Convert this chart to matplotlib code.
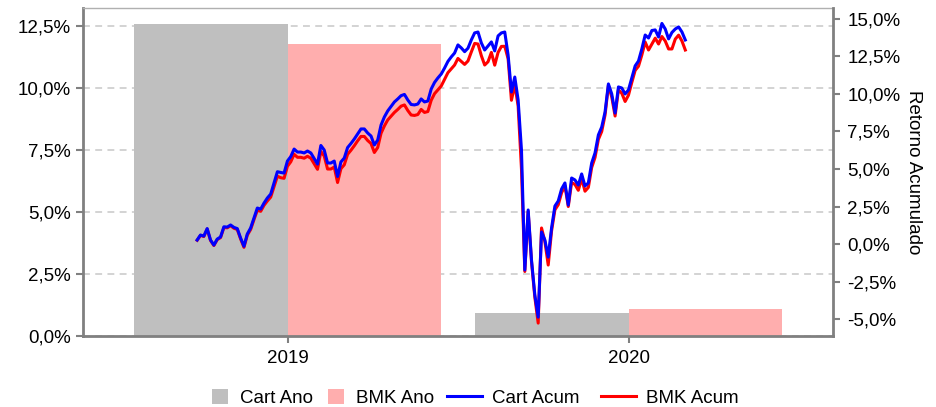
import matplotlib
matplotlib.use("Agg")
import matplotlib.pyplot as plt
from matplotlib.ticker import FuncFormatter, FixedLocator

plt.rcParams['font.family'] = ['Liberation Sans', 'DejaVu Sans']

# ---------------- data ----------------
years = ["2019", "2020"]
cart_ano = [12.6, 0.92]
bmk_ano = [11.79, 1.09]

cart_acum = [
    0.27, 0.60, 0.53, 1.03, 0.27, -0.07, 0.33, 0.47, 1.15, 1.13,
    1.27, 1.11, 1.03, 0.40, -0.15, 0.67, 1.07, 1.73, 2.40, 2.33,
    2.73, 3.07, 3.33, 4.07, 4.82, 4.77, 4.73, 5.53, 5.83, 6.33,
    6.13, 6.13, 6.07, 6.20, 6.07, 5.70, 5.33, 6.57, 6.27, 5.40,
    5.40, 5.53, 4.50, 5.47, 5.73, 6.43, 6.70, 7.00, 7.33, 7.67,
    7.67, 7.40, 7.20, 6.60, 6.93, 7.93, 8.47, 8.87, 9.17, 9.47,
    9.67, 9.89, 9.97, 9.60, 9.30, 9.27, 9.33, 9.67, 9.47, 9.53,
    10.33, 10.77, 11.07, 11.33, 11.73, 12.17, 12.47, 12.73, 13.27, 13.07,
    12.82, 13.05, 13.60, 14.07, 14.13, 13.40, 12.93, 13.20, 13.47, 12.87,
    13.87, 14.07, 14.13, 12.60, 10.13, 11.13, 9.60, 6.27, -1.73, 2.27,
    -1.07, -3.40, -4.87, 0.80, 0.27, -0.87, 1.07, 2.53, 2.87, 3.67,
    4.07, 2.60, 4.40, 4.27, 3.93, 4.67, 3.87, 4.07, 5.40, 6.07,
    7.27, 7.80, 8.80, 10.67, 10.00, 8.73, 10.47, 10.40, 10.00, 10.27,
    11.07, 11.87, 12.20, 13.00, 13.93, 13.73, 14.23, 14.27, 13.80, 14.70,
    14.33, 13.67, 14.10, 14.33, 14.47, 14.13, 13.60,
]
bmk_acum = [
    0.25, 0.58, 0.50, 1.00, 0.24, -0.10, 0.29, 0.43, 1.10, 1.08,
    1.22, 1.05, 0.97, 0.34, -0.22, 0.59, 0.97, 1.63, 2.25, 2.18,
    2.58, 2.87, 3.13, 3.82, 4.52, 4.42, 4.38, 5.18, 5.48, 5.98,
    5.78, 5.78, 5.72, 5.85, 5.72, 5.35, 4.98, 6.17, 5.87, 5.00,
    5.00, 5.13, 4.10, 5.02, 5.28, 5.98, 6.25, 6.55, 6.88, 7.17,
    7.17, 6.90, 6.70, 6.10, 6.43, 7.38, 7.87, 8.27, 8.52, 8.77,
    8.97, 9.19, 9.27, 8.90, 8.60, 8.57, 8.63, 8.97, 8.77, 8.83,
    9.58, 10.02, 10.27, 10.53, 10.98, 11.42, 11.67, 11.93, 12.37, 12.17,
    11.97, 12.20, 12.80, 13.37, 13.33, 12.55, 11.93, 12.15, 12.77, 11.92,
    12.77, 13.17, 13.18, 12.35, 9.58, 10.63, 9.20, 5.00, -1.83, 2.17,
    -1.17, -3.55, -5.27, 1.07, 0.17, -1.40, 0.87, 2.28, 2.62, 3.42,
    3.87, 2.50, 4.10, 3.97, 3.58, 4.37, 3.52, 3.77, 5.10, 5.77,
    6.97, 7.50, 8.60, 10.57, 9.80, 8.53, 10.27, 10.05, 9.50, 9.92,
    10.77, 11.57, 11.85, 12.60, 13.46, 12.93, 13.33, 13.72, 13.33, 13.83,
    13.53, 13.00, 13.00, 13.66, 13.92, 13.53, 12.93,
]

left_ticks = [0.0, 2.5, 5.0, 7.5, 10.0, 12.5]
right_ticks = [-5.0, -2.5, 0.0, 2.5, 5.0, 7.5, 10.0, 12.5, 15.0]

# ---------------- styles ----------------
C_GRAY = "#BFBFBF"
C_PINK = "#FFAEAE"
C_BLUE = "#0000FF"
C_RED = "#FF0000"
SPINE = "#808080"
FS = 13.5

def pct(v, pos=None):
    return f"{v:.1f}%".replace(".", ",")

fig = plt.figure(figsize=(9.37, 4.07), dpi=100)
ax = fig.add_axes([0.0889, 0.1744, 0.8004, 0.8052])

xpos = list(range(len(years)))
w = 0.45
b1 = ax.bar([p - w / 2 for p in xpos], cart_ano, width=w, color=C_GRAY, label="Cart Ano", zorder=2)
b2 = ax.bar([p + w / 2 for p in xpos], bmk_ano, width=w, color=C_PINK, label="BMK Ano", zorder=2)
ax.set_xlim(-0.6, 1.6)
ax.set_ylim(0, 13.23)
ax.set_xticks(xpos)
ax.set_xticklabels(years)
ax.yaxis.set_major_locator(FixedLocator(left_ticks))
ax.yaxis.set_major_formatter(FuncFormatter(pct))
ax.set_axisbelow(True)
ax.grid(axis="y", color="#C8C8C8", linestyle=(0, (4.5, 3.5)), linewidth=1.1)
ax.grid(axis="x", visible=False)

ax2 = ax.twinx()
ax2.set_ylim(-6.13, 15.71)
ax2.yaxis.set_major_locator(FixedLocator(right_ticks))
ax2.yaxis.set_major_formatter(FuncFormatter(pct))
ax2.set_ylabel("Retorno Acumulado", rotation=270, labelpad=15.5, fontsize=FS)

ax3 = ax2.twiny()
n = len(cart_acum)
f0, f1 = 0.1518, 0.8027
span = (n - 1) / (f1 - f0)
ax3.set_xlim(-f0 * span, -f0 * span + span)
ax3.set_ylim(ax2.get_ylim())
idx = list(range(n))
l_bmk, = ax3.plot(idx, bmk_acum, color=C_RED, lw=2.2, label="BMK Acum", zorder=3)
l_cart, = ax3.plot(idx, cart_acum, color=C_BLUE, lw=2.2, label="Cart Acum", zorder=4)
ax3.set_xticks([])
for s in ax3.spines.values():
    s.set_visible(False)

for a in (ax, ax2):
    a.tick_params(labelsize=FS, colors="black", length=5, width=1.5)
    a.tick_params(axis="both", color=SPINE)
for a in (ax, ax2, ax3):
    a.patch.set_visible(False)

ax.spines["left"].set_color(SPINE)
ax.spines["left"].set_linewidth(2)
ax.spines["bottom"].set_color(SPINE)
ax.spines["bottom"].set_linewidth(2)
ax.spines["top"].set_color("#B0B0B0")
ax.spines["top"].set_linewidth(1)
ax.spines["right"].set_visible(False)
ax2.spines["right"].set_color(SPINE)
ax2.spines["right"].set_linewidth(2)
for k in ("left", "top", "bottom"):
    ax2.spines[k].set_visible(False)
ax.tick_params(axis="x", pad=5)
ax.tick_params(axis="y", pad=4)
ax2.tick_params(axis="y", pad=5)

LEG_Y = 0.022
leg1 = fig.legend([b1, b2], ["Cart Ano", "BMK Ano"], loc="center left",
                  bbox_to_anchor=(212 / 937, LEG_Y), ncol=2, frameon=False, fontsize=FS,
                  handlelength=0.85, handleheight=0.85, handletextpad=0.64,
                  columnspacing=0.8, borderpad=0, borderaxespad=0)
leg2 = fig.legend([l_cart, l_bmk], ["Cart Acum", "BMK Acum"], loc="center left",
                  bbox_to_anchor=(447 / 937, LEG_Y), ncol=2, frameon=False, fontsize=FS,
                  handlelength=1.87, handletextpad=0.53,
                  columnspacing=1.12, borderpad=0, borderaxespad=0)

fig.savefig("out.png", dpi=100)
